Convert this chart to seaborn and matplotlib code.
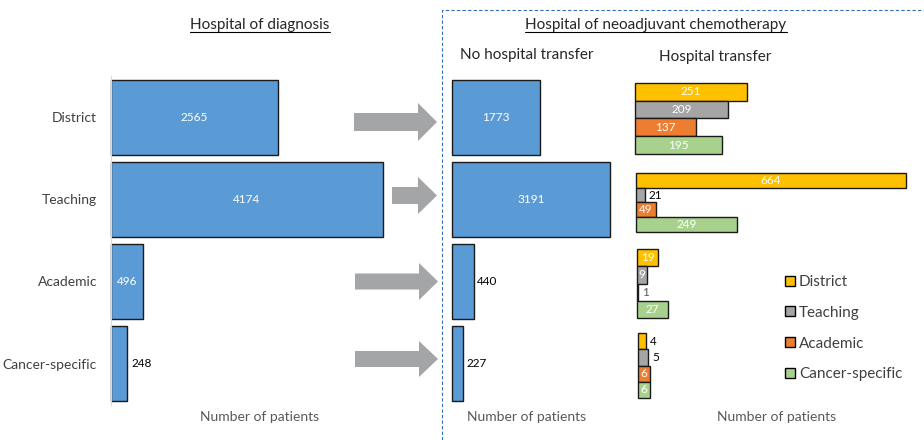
import matplotlib
matplotlib.use('Agg')
import matplotlib.pyplot as plt
import seaborn as sns
import pandas as pd
from matplotlib.lines import Line2D
from matplotlib.patches import Polygon

# --- data ---
categories = ["District", "Teaching", "Academic", "Cancer-specific"]
diagnosis = [2565, 4174, 496, 248]
no_transfer = [1773, 3191, 440, 227]
# transfers: hospital of diagnosis -> hospital of chemotherapy (District, Teaching, Academic, Cancer-specific)
from_district = [251, 209, 137, 195]
from_teaching = [664, 21, 49, 249]
from_academic = [19, 9, 1, 27]
from_cancer = [4, 5, 6, 6]
transfer_groups = [from_district, from_teaching, from_academic, from_cancer]

W, H = 924, 440
BLUE = '#5B9BD5'
dest_colors = ['#FFC000', '#A5A5A5', '#ED7D31', '#A9D18E']
TXT = '#404040'

sns.set_style('white')
plt.rcParams['font.family'] = ['Lato', 'DejaVu Sans']

fig = plt.figure(figsize=(W / 100, H / 100), dpi=100)


def fx(px):
    return px / W


def fy(py):
    return 1 - py / H


def add_ax(left, top, right, bottom):
    return fig.add_axes([fx(left), fy(bottom), (right - left) / W, (bottom - top) / H])


def hbar(ax, values, colors, width, px_per_unit, ax_px, outside=(), out_color='black', pad=3):
    df = pd.DataFrame({'cat': categories, 'n': values})
    sns.barplot(data=df, x='n', y='cat', hue='cat', order=categories, hue_order=categories,
                palette=colors, saturation=1, width=width, edgecolor='#1a1a1a', linewidth=1.0,
                legend=False, ax=ax)
    for p in ax.patches:
        p.set_clip_on(False)
    ax.set_xlim(0, ax_px / px_per_unit)
    ax.set_ylim(len(categories) - 0.5, -0.5)
    ax.set_xlabel('')
    ax.set_ylabel('')
    ax.set_xticks([])
    ax.set_yticks([])
    for s in ax.spines.values():
        s.set_visible(False)
    ax.patch.set_alpha(0)
    for i, v in enumerate(values):
        if i in outside:
            ax.annotate(str(v), (v, i), xytext=(pad, 0), textcoords='offset points',
                        ha='left', va='center', fontsize=8.5, color=out_color)
        else:
            ax.text(v / 2, i, str(v), ha='center', va='center', fontsize=8.5, color='white')


# left panel: hospital of diagnosis
ax_l = add_ax(111, 76.5, 400, 404.5)
hbar(ax_l, diagnosis, [BLUE] * 4, 0.92, 272 / max(diagnosis), 289, outside={3})
ax_l.spines['left'].set_visible(True)
ax_l.spines['left'].set_color('#D9D9D9')
ax_l.set_yticks(range(len(categories)))
ax_l.set_yticklabels(categories, fontsize=10, color=TXT)
ax_l.tick_params(axis='y', length=0, pad=10)

# middle panel: no hospital transfer
ax_m = add_ax(452, 76.5, 630, 404.5)
hbar(ax_m, no_transfer, [BLUE] * 4, 0.92, 158 / max(no_transfer), 178, outside={2, 3}, pad=2)

# right panel: hospital transfer, one small chart per hospital of diagnosis
group_layout = [  # left, top, bottom, px per patient
    (635, 83, 154, 0.446),
    (636, 173, 232, 0.407),
    (637, 249, 318, 1.13),
    (638, 333, 398, 2.0),
]
group_outside = [set(), {1}, {2}, {0, 1}]
for vals, (left, top, bottom, scale), outs in zip(transfer_groups, group_layout, group_outside):
    ax = add_ax(left, top, left + 280, bottom)
    oc = '#595959' if outs == {2} else 'black'
    hbar(ax, vals, dest_colors, 1.0, scale, 280, outside=outs, out_color=oc, pad=3)

# arrows between diagnosis and chemotherapy
arrow_color = '#A3A5A7'
arrows = [(354, 418, 437, 122, 9, 19), (392, 418, 437, 195.5, 8.5, 18.5),
          (355, 419, 438, 281.5, 8, 18.5), (355, 419, 438, 359, 8, 18)]
for x0, x1, x2, cy, sh, hh in arrows:
    pts = [(x0, cy - sh), (x1, cy - sh), (x1, cy - hh), (x2, cy), (x1, cy + hh),
           (x1, cy + sh), (x0, cy + sh)]
    fig.patches.append(Polygon([(fx(a), fy(b)) for a, b in pts], closed=True,
                               facecolor=arrow_color, edgecolor='none',
                               transform=fig.transFigure))

# dashed frame around chemotherapy panels
fig.lines.append(Line2D([fx(442), fx(442), fx(924)], [fy(440), fy(10), fy(10)],
                        color='#2F6EBA', linewidth=0.8, linestyle=(0, (3, 2)),
                        transform=fig.transFigure))

# titles
t1 = fig.text(fx(260), fy(25), 'Hospital of diagnosis', ha='center', va='center', fontsize=11)
t2 = fig.text(fx(656), fy(25), 'Hospital of neoadjuvant chemotherapy', ha='center', va='center',
              fontsize=11)
fig.text(fx(527), fy(55), 'No hospital transfer', ha='center', va='center', fontsize=11)
fig.text(fx(715), fy(57), 'Hospital transfer', ha='center', va='center', fontsize=11)
for x in (260, 527, 777):
    fig.text(fx(x), fy(417), 'Number of patients', ha='center', va='center', fontsize=10,
             color='#595959')

# legend
handles = [Line2D([], [], marker='s', linestyle='none', markersize=7, markerfacecolor=c,
                  markeredgecolor='black', markeredgewidth=1.0) for c in dest_colors]
fig.legend(handles, categories, loc='upper left', bbox_to_anchor=(fx(782), fy(275)),
           frameon=False, fontsize=11, labelcolor=TXT, labelspacing=1.1,
           handletextpad=0.1, handlelength=1.0, borderpad=0, borderaxespad=0)

# underline the two headings
fig.canvas.draw()
inv = fig.transFigure.inverted()
for t in (t1, t2):
    bb = t.get_window_extent()
    (ax0, ay0), (ax1, _) = inv.transform([(bb.x0, bb.y0), (bb.x1, bb.y1)])
    fig.lines.append(Line2D([ax0, ax1], [ay0, ay0], color='black', linewidth=0.8,
                            transform=fig.transFigure))

fig.savefig('out.png', dpi=100)
